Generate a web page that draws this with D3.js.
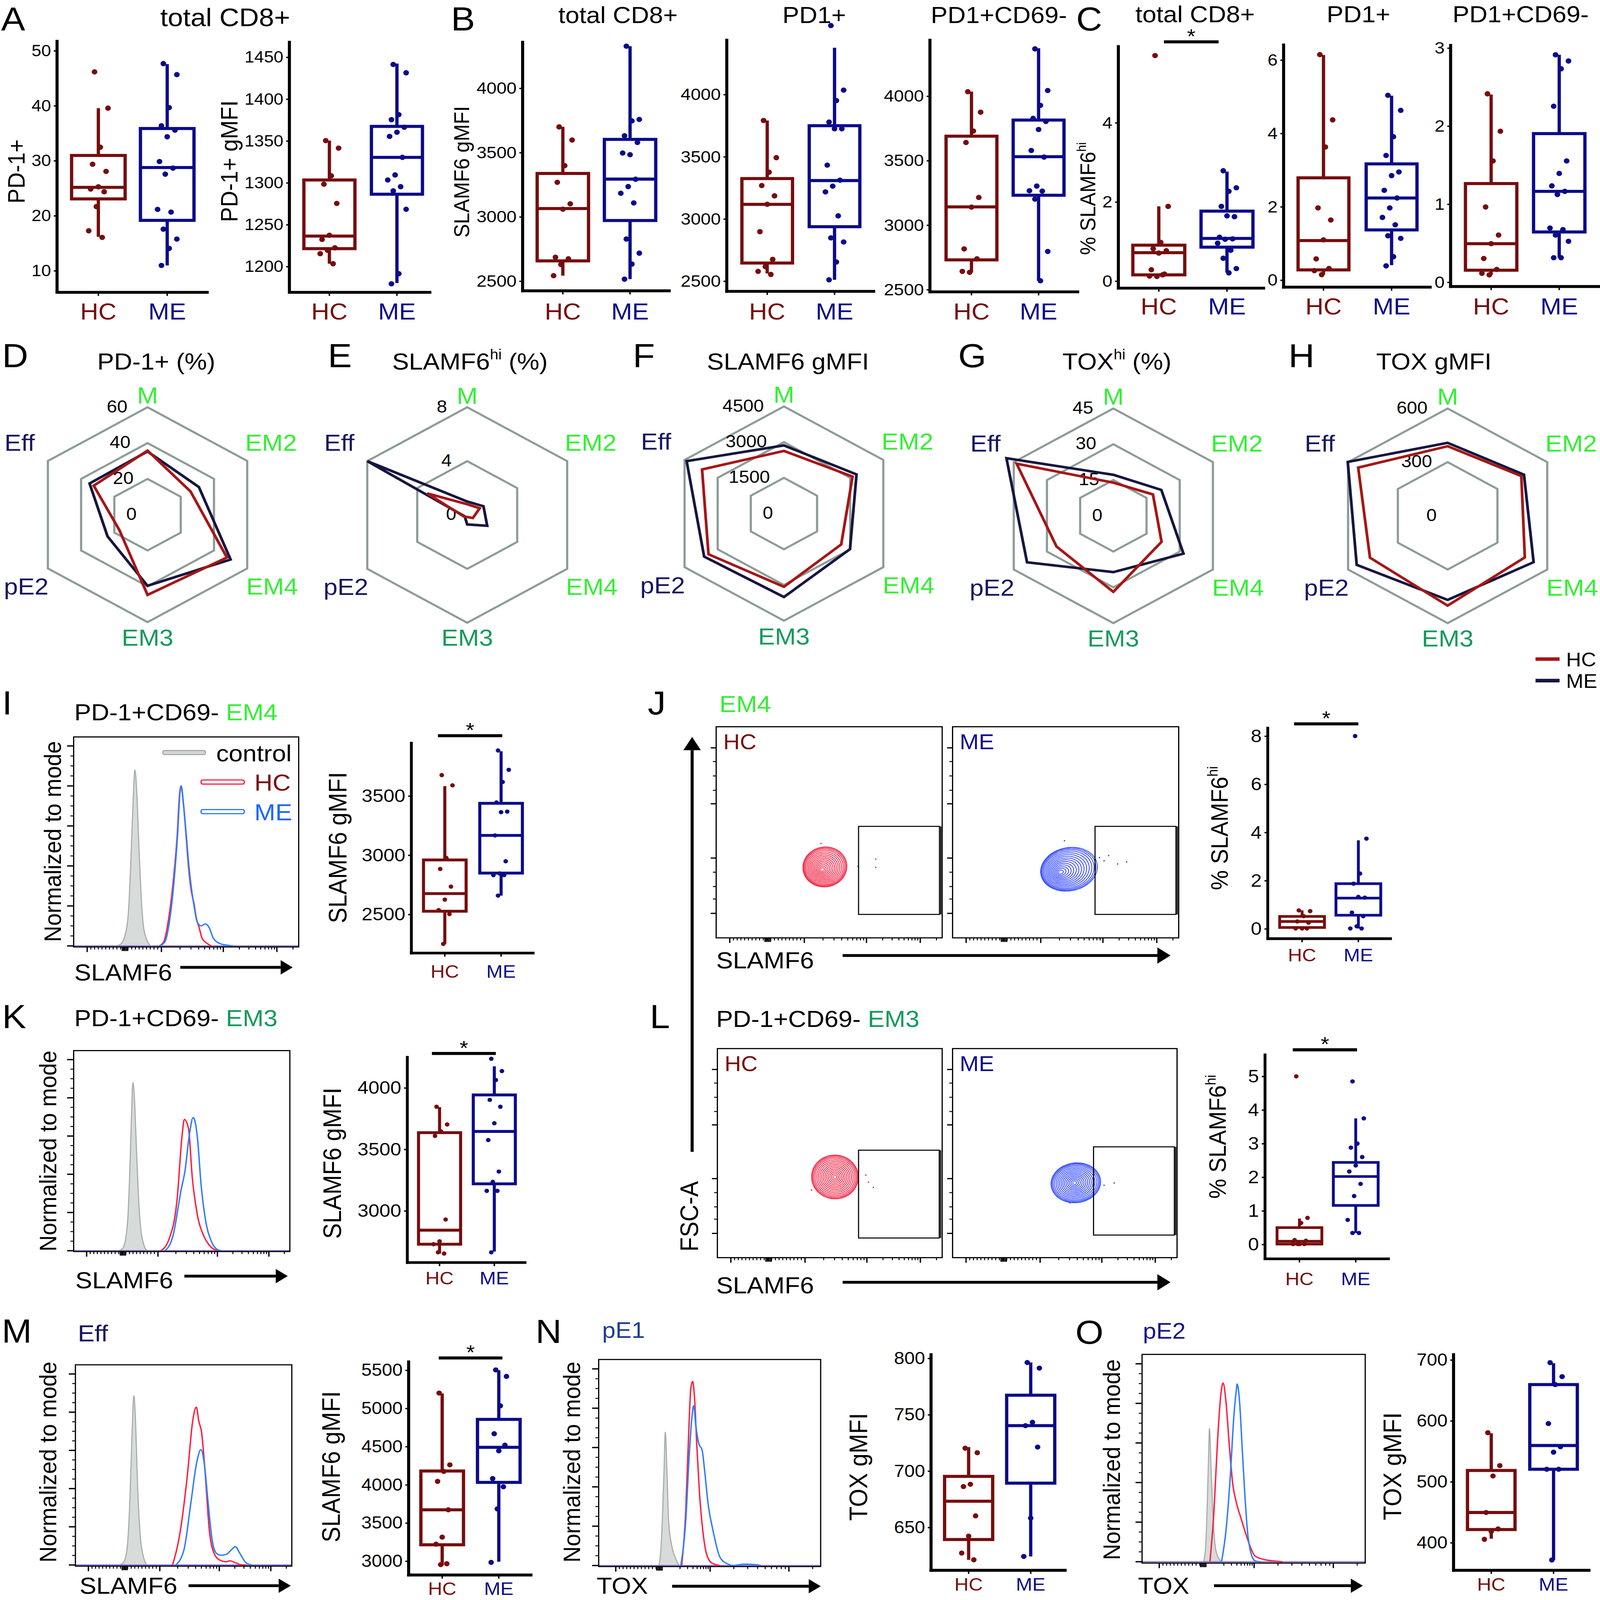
<!DOCTYPE html>
<html>
<head>
<meta charset="utf-8">
<script src="https://cdn.jsdelivr.net/npm/d3@7"></script>
<style>
  html, body { margin: 0; padding: 0; background: #fff; width: 100%; height: 100%; overflow: hidden; }
  svg { display: block; width: 100vw; height: 100vh; }
</style>
</head>
<body>
<script>
// ---------- data ----------
const groups = ["HC", "ME"];

// box stats are [lower whisker, Q1, median, Q3, upper whisker]
// A: total CD8+
const aPd1Ticks = [10, 20, 30, 40, 50];
const aPd1Hc = [46.1, 39.5, 32.4, 29.3, 28.0, 25.2, 24.8, 24.3, 21.6, 17.2, 16.0];
const aPd1Me = [47.6, 45.6, 39.6, 36.3, 35.5, 34.3, 29.8, 28.6, 27.5, 21.1, 20.6, 17.5, 15.7, 14.0, 10.9];
const aPd1BoxHc = [16.1, 23.0, 25.1, 30.9, 39.5];
const aPd1BoxMe = [10.9, 19.1, 28.7, 35.8, 47.5];

const aMfiTicks = [1200, 1250, 1300, 1350, 1400, 1450];
const aMfiHc = [1350, 1341, 1308, 1298, 1275, 1237, 1232, 1222, 1219, 1215, 1203];
const aMfiMe = [1441, 1431, 1381, 1375, 1366, 1360, 1355, 1330, 1309, 1303, 1295, 1290, 1268, 1191, 1179];
const aMfiBoxHc = [1203, 1221, 1236, 1303, 1350];
const aMfiBoxMe = [1180, 1286, 1330, 1367, 1442];

// B: SLAMF6 gMFI
const bTicks = [2500, 3000, 3500, 4000];
const bTotHc = [3697, 3595, 3396, 3266, 3099, 3057, 2683, 2671, 2627, 2540];
const bTotMe = [4325, 3755, 3744, 3628, 3576, 3481, 3494, 3290, 3233, 3181, 3106, 2825, 2715, 2630, 2513];
const bTotBoxHc = [2540, 2655, 3062, 3335, 3698];
const bTotBoxMe = [2513, 2969, 3291, 3600, 4325];
const bPd1Hc = [3789, 3490, 3373, 3266, 3183, 3115, 2895, 2672, 2614, 2576, 2551];
const bPd1Me = [4552, 4033, 3949, 3776, 3722, 3722, 3430, 3309, 3261, 3215, 3022, 2845, 2812, 2651, 2508];
const bPd1BoxHc = [2559, 2643, 3115, 3322, 3789];
const bPd1BoxMe = [2508, 2935, 3306, 3747, 4374];
const bCd69Hc = [4032, 3873, 3727, 3638, 3212, 3137, 2813, 2736, 2631, 2639];
const bCd69Me = [4364, 4041, 3926, 3825, 3801, 3739, 3576, 3525, 3300, 3264, 3261, 3199, 2793, 2566];
const bCd69BoxHc = [2631, 2728, 3139, 3687, 4033];
const bCd69BoxMe = [2566, 3229, 3528, 3812, 4369];

// C: % SLAMF6hi
const cTotTicks = [0, 2, 4];
const cTotHc = [5.69, 1.88, 0.97, 0.81, 0.76, 0.70, 0.28, 0.17, 0.11, 0.12, 0.15];
const cTotMe = [2.78, 2.35, 2.26, 1.88, 1.62, 1.64, 1.10, 1.06, 1.05, 0.95, 0.77, 0.57, 0.31, 0.20];
const cTotBoxHc = [0.13, 0.15, 0.71, 0.90, 1.88];
const cTotBoxMe = [0.21, 0.85, 1.07, 1.76, 2.76];
const cPd1Ticks = [0, 2, 4, 6];
const cPd1Hc = [6.14, 4.36, 3.62, 1.96, 1.63, 1.09, 0.57, 0.31, 0.14, 0.25];
const cPd1Me = [5.03, 4.62, 3.90, 3.39, 2.94, 2.84, 2.44, 2.23, 1.96, 1.70, 1.50, 1.20, 1.13, 0.63, 0.38];
const cPd1BoxHc = [0.14, 0.27, 1.07, 2.78, 6.13];
const cPd1BoxMe = [0.40, 1.36, 2.23, 3.16, 5.02];
const cCd69Ticks = [0, 1, 2, 3];
const cCd69Hc = [2.41, 1.93, 1.55, 0.96, 0.60, 0.49, 0.30, 0.16, 0.09, 0.11];
const cCd69Me = [2.91, 2.83, 2.73, 2.25, 1.55, 1.39, 1.23, 1.16, 1.12, 0.69, 0.67, 0.60, 0.52, 0.31, 0.31];
const cCd69BoxHc = [0.09, 0.15, 0.49, 1.26, 2.40];
const cCd69BoxMe = [0.31, 0.64, 1.16, 1.90, 2.91];

// D-H radar charts, axis order
const radarAxes = ["M", "EM2", "EM4", "EM3", "pE2", "Eff"];
const dTicks = [0, 20, 40, 60];
const dHc = [35.8, 25.9, 47.8, 44.8, 17.0, 32.4];
const dMe = [35.3, 30.9, 50.0, 39.7, 24.1, 34.9];
const eTicks = [0, 4, 8];
const eHc = [0.8, 1.0, 0.45, 0.15, 0.25, 3.2];
const eMe = [1.0, 1.3, 1.6, 0.7, 0.2, 8.0];
const fTicks = [0, 1500, 3000, 4500];
const fHc = [2631, 3107, 2593, 3077, 3416, 3707];
const fMe = [2863, 3287, 2991, 3506, 3613, 4406];
const gTicks = [0, 15, 30, 45];
const gHc = [13.9, 17.9, 21.8, 31.9, 25.7, 43.7];
const gMe = [17.2, 21.7, 31.7, 23.6, 39.0, 48.3];
const hTicks = [0, 300, 600];
const hHc = [389, 444, 465, 502, 468, 539];
const hMe = [408, 460, 518, 470, 548, 602];

// I-O histograms: [channel (0-100 across plot), % of mode]
const iCtrl = [[19,0],[21,1],[23,6],[24.5,20],[25.5,45],[26.5,75],[27.2,88],[28,78],[29,50],[30,25],[31,10],[32.5,3],[34,0]];
const iHc = [[37.9,0],[40,2],[42.4,15],[44.5,35],[46,55],[47,75],[47.7,80],[48.7,72],[49.9,56],[51,40],[52.2,28],[53.5,21],[54.5,14],[55.8,9],[57,4],[58.5,2],[61.2,0]];
const iMe = [[38,0],[40.5,2],[42.8,14],[44.8,35],[46.2,56],[47.2,76],[47.8,80],[48.8,71],[50,56],[51.2,40],[52.2,30],[53.5,20],[54.9,12],[56.7,10],[58.5,11],[60.3,9],[62,4],[64.8,1.3],[67.4,0.5],[71,0]];
const kCtrl = [[20.5,0],[22.5,1],[24,6],[25.2,20],[26.2,50],[27,80],[27.4,88],[28,82],[29,55],[30,28],[31,12],[32.5,3],[34,0]];
const kHc = [[40.4,0],[44.1,6],[47.9,27.5],[50.1,59.7],[51.2,68.7],[53.1,64],[54.9,38],[57.2,18.9],[60,8.2],[62.8,2.8],[66.5,0]];
const kMe = [[42.3,0],[46,8],[49.7,31.8],[51.6,42.5],[53.4,59.7],[55.3,69.7],[57.2,59.7],[59,33.9],[60.9,16.7],[63.7,4.9],[66.5,0.6],[68.3,0]];
const mCtrl = [[20.4,0],[22.5,2],[24,10],[25.2,35],[26.2,70],[27,88.6],[27.8,75],[28.8,40],[30,15],[31.5,4],[33,0]];
const mHc = [[44.9,0],[48.5,18],[51.8,47.7],[54.2,75.4],[55.9,82.6],[57,75.4],[58.3,69.5],[60,47.7],[61.9,18],[64.1,6.1],[66.5,2.7],[69.8,1.7],[71.4,2.2],[73.9,1.2],[76.3,0.2],[78.8,0]];
const mMe = [[46.4,0],[50.2,8.1],[53.4,32.9],[55.9,52.7],[58,60.4],[59.6,52.7],[61.3,32.9],[63.2,13],[65.2,6.1],[67.3,5.1],[69.8,5.6],[72.2,8.1],[73.9,9.6],[76,6.1],[78.8,1.2],[81.5,0]];
const nCtrl = [[27.2,0],[28,8],[28.8,27.4],[29.4,46.6],[30,67.8],[30.8,46.6],[31.5,22.6],[33.1,9.1],[34.6,3.8],[36.2,0]];
const nHc = [[37.4,0],[39.2,27.4],[40.5,65.9],[41.5,89.9],[42.3,93.6],[43.2,85],[44.2,61.1],[45.4,37],[46.9,17.8],[48.5,6.3],[50.8,1.4],[54.6,0]];
const nMe = [[37,0],[39.2,22.6],[40.8,56.3],[42,75.5],[42.8,81.3],[43.8,70.7],[45.1,62],[46.6,58.7],[47.7,48.6],[49.2,32.2],[51.5,17.8],[54.6,4.3],[57.7,1],[60.8,0],[65.4,0.7],[70,0.5],[73.1,0]];
const oCtrl = [[27.6,0],[28.5,8],[29.1,25.3],[29.8,54],[30.2,67.3],[31,44.4],[31.9,20.5],[33,6.2],[34.5,1.4],[35.6,0]];
const oHc = [[30.4,0],[32.2,25.3],[33.7,58.7],[35.3,84.5],[36.3,90.3],[37.6,80.7],[39.1,58.7],[40.6,39.6],[42.2,30.1],[44.2,22.4],[46,15.8],[48.3,8.1],[50.6,2.9],[53.7,1.4],[56.7,0.7],[59.8,0.3],[62.9,0]];
const oMe = [[35.6,0],[37.6,15.8],[39.6,44.4],[41.1,73.1],[42.2,86.4],[42.6,89.8],[43.7,80.7],[44.8,58.7],[46,34.9],[47.2,15.8],[48.8,4.3],[50.6,0.5],[52.9,0]];

// flow axis ticks (channel units)
const slamMajor = [6, 39, 66.5, 90.3];
const slamZero = [21.6, 22.2, 22.8, 23.4, 24];
const slamDecades = [[39, 66.5], [66.5, 90.3], [90.3, 114.1]];
const toxMajor = [7.7, 50.2, 85.7];
const toxZero = [26.2, 26.8, 27.4, 28, 28.6];
const toxDecades = [[30.8, 50.2], [50.2, 85.7], [85.7, 121.2]];
const fscMajor = [11.6, 37.8, 63.5, 90];
const fscMinor = [18.4, 24.3, 31.1, 69.9, 76.7, 83.5];

// J/L populations: [SLAMF6 centre, FSC centre, spread x, spread y, drift x, drift y, tilt deg]
const jHcPop = [47, 32.4, 9.8, 9.4, 1.1, 1.2, 25];
const jMePop = [47.7, 31.1, 12.7, 10.2, 3.8, 1.4, 15];
const lHcPop = [52.3, 38.6, 10.4, 10.5, 0, 0, 20];
const lMePop = [54.4, 35.8, 11.1, 9.5, 0.5, 0, 10];
const contourLevels = [0.08, 0.15, 0.22, 0.29, 0.36, 0.43, 0.5, 0.57, 0.64, 0.71, 0.78, 0.85, 0.91, 0.96, 1];
const jHcDots = [[70.6, 37.3], [70.6, 33.4], [62.7, 33.9], [46.4, 44.7]];
const jMeDots = [[65, 38], [67, 36.5], [69, 39], [73, 35], [77, 36], [49.5, 46]];
const lHcDots = [[66, 39.5], [67.2, 36.1], [69.4, 33.6], [41.9, 32.3]];
const lMeDots = [[67.5, 34.6], [72, 35.7], [52.3, 26.2]];
const jGate = [63, 98.8, 11.1, 52.8];
const lGateHc = [62.8, 98.7, 9.4, 51.4];
const lGateMe = [62.8, 98.8, 10.8, 53];

// I-O box plots
const iTicks = [2500, 3000, 3500];
const iHcPts = [3673, 3587, 2974, 2881, 2732, 2622, 2534, 2500, 2248];
const iMePts = [3881, 3718, 3615, 3442, 3365, 3360, 3164, 2946, 2843, 2829, 2829, 2656];
const iBoxHc = [2248, 2524, 2673, 2957, 3580];
const iBoxMe = [2656, 2846, 3164, 3435, 3874];
const kTicks = [3000, 3500, 4000];
const kHcPts = [3844, 3700, 3643, 3607, 2927, 2750, 2726, 2650, 2660];
const kMePts = [4234, 4134, 4061, 3900, 3844, 3710, 3573, 3317, 3233, 3160, 3160, 2660];
const kBoxHc = [2650, 2726, 2840, 3633, 3841];
const kBoxMe = [2666, 3217, 3643, 3940, 4173];
const jTicks = [0, 2, 4, 6, 8];
const jHcPts = [0.75, 0.72, 0.51, 0.29, 0.24, 0, 0, 0];
const jMePts = [7.99, 3.73, 2.28, 1.86, 1.28, 1.31, 0.66, 0.51, 0.09, 0, 0];
const jBoxHc = [0, 0.04, 0.29, 0.50, 0.75];
const jBoxMe = [0, 0.55, 1.26, 1.86, 3.66];
const lTicks = [0, 1, 2, 3, 4, 5];
const lHcPts = [4.99, 0.78, 0.63, 0.12, 0.10, 0, 0, 0, 0];
const lMePts = [4.84, 3.74, 2.99, 2.87, 2.59, 2.34, 2.16, 1.79, 1.43, 0.72, 0.33, 0.33];
const lBoxHc = [0, 0, 0.085, 0.49, 0.76];
const lBoxMe = [0.33, 1.15, 2.01, 2.43, 3.74];
const mTicks = [3000, 3500, 4000, 4500, 5000, 5500];
const mHcPts = [5197, 4257, 4171, 4040, 3668, 3310, 3218, 2962, 2950];
const mMePts = [5500, 5415, 5030, 4664, 4515, 4440, 4077, 3970, 3680, 2980];
const mBoxHc = [2939, 3210, 3668, 4176, 5191];
const mBoxMe = [2988, 4027, 4486, 4852, 5496];
const nTicks = [650, 700, 750, 800];
const nHcPts = [720, 716, 688, 686, 660, 642, 627, 621];
const nMePts = [796, 791, 743, 740, 721, 658, 624];
const nBoxHc = [621, 639, 673, 695, 721];
const nBoxMe = [624, 689, 740, 767, 796];
const oTicks = [400, 500, 600, 700];
const oHcPts = [580, 526, 509, 449, 422, 418, 405];
const oMePts = [695, 672, 659, 595, 557, 548, 520, 520, 371];
const oBoxHc = [406, 421, 449, 518, 579];
const oBoxMe = [371, 520, 559, 659, 694];

// ---------- drawing ----------
const FONT = "'Liberation Sans', Arial, Helvetica, sans-serif";
const HC_COL = "#760d0d", ME_COL = "#0b0b8a";
const BRIGHT = "#36ee36", DARKGREEN = "#159a5b", NAVY = "#161660";

// the figure is laid out on a 1464 x 1568 grid and stretched to fill the window
const svg = d3.select("body").append("svg")
  .attr("viewBox", "0 0 1464 1568")
  .attr("preserveAspectRatio", "none");
svg.append("rect").attr("width", 1464).attr("height", 1568).attr("fill", "#fff");

function text(x, y, parts, size, anchor = "start") {
  const t = svg.append("text").attr("x", x).attr("y", y)
    .attr("font-family", FONT).attr("font-size", size).attr("text-anchor", anchor);
  addParts(t, parts, size);
  return t;
}
function addParts(t, parts, size) {
  if (typeof parts === "string") parts = [[parts, "#000"]];
  parts.forEach(p => {
    const s = t.append("tspan").text(p[0]).attr("fill", p[1] || "#000");
    if (p[2] === "sup") s.attr("font-size", size * 0.6).attr("dy", -size * 0.42);
    if (p[2] === "down") s.attr("dy", size * 0.42);
  });
}
function rotText(cx, cy, parts, size) {
  const t = svg.append("text").attr("transform", `translate(${cx},${cy}) rotate(-90)`)
    .attr("y", size * 0.36).attr("font-family", FONT).attr("font-size", size)
    .attr("text-anchor", "middle");
  addParts(t, parts, size);
  return t;
}
function arrow(x1, y1, x2, y2, head = 12, width = 14, sw = 2.8) {
  const g = svg.append("g");
  const ang = Math.atan2(y2 - y1, x2 - x1);
  const bx = x2 - head * Math.cos(ang), by = y2 - head * Math.sin(ang);
  g.append("line").attr("x1", x1).attr("y1", y1).attr("x2", bx).attr("y2", by)
    .attr("stroke", "#000").attr("stroke-width", sw);
  const px = -Math.sin(ang) * width / 2, py = Math.cos(ang) * width / 2;
  g.append("path").attr("d", `M${x2},${y2}L${bx + px},${by + py}L${bx - px},${by - py}Z`).attr("fill", "#000");
}
const jit = i => (((i * 7 + 3) % 11) / 10 - 0.5) * 0.36;

function boxPlot(o) {
  const y = d3.scaleLinear().domain(o.domain).range([o.bottom, o.top]);
  const x = d3.scalePoint().domain(groups).range([o.hcX, o.meX]);
  const g = svg.append("g");
  const ax = g.append("g").attr("transform", `translate(${o.ax},0)`)
    .call(d3.axisLeft(y).tickValues(o.ticks).tickFormat(d3.format("d"))
      .tickSize(3).tickPadding(2.5).tickSizeOuter(0));
  ax.select(".domain").remove();
  ax.selectAll(".tick line").attr("stroke", "#000").attr("stroke-width", 1.3);
  ax.selectAll(".tick text").attr("font-family", FONT).attr("font-size", o.tickFont).attr("fill", "#000");
  const aw = o.axisW || 2.8;
  g.append("line").attr("x1", o.ax).attr("x2", o.ax).attr("y1", o.top).attr("y2", o.bottom + aw / 2)
    .attr("stroke", "#000").attr("stroke-width", aw);
  g.append("line").attr("x1", o.ax - aw / 2).attr("x2", o.right).attr("y1", o.bottom).attr("y2", o.bottom)
    .attr("stroke", "#000").attr("stroke-width", aw);
  const bw = o.boxStroke || 3;
  [[o.boxHc, o.hc, "HC", HC_COL], [o.boxMe, o.me, "ME", ME_COL]].forEach(([b, pts, k, col]) => {
    const cx = x(k), w = o.boxW;
    g.append("line").attr("x1", cx).attr("x2", cx).attr("y1", o.bottom).attr("y2", o.bottom + 3.5)
      .attr("stroke", "#000").attr("stroke-width", 1.3);
    g.append("line").attr("x1", cx).attr("x2", cx).attr("y1", y(b[0])).attr("y2", y(b[1]))
      .attr("stroke", col).attr("stroke-width", bw);
    g.append("line").attr("x1", cx).attr("x2", cx).attr("y1", y(b[3])).attr("y2", y(b[4]))
      .attr("stroke", col).attr("stroke-width", bw);
    g.append("rect").attr("x", cx - w / 2).attr("y", y(b[3])).attr("width", w)
      .attr("height", Math.max(0.5, y(b[1]) - y(b[3])))
      .attr("fill", "none").attr("stroke", col).attr("stroke-width", bw);
    g.append("line").attr("x1", cx - w / 2).attr("x2", cx + w / 2).attr("y1", y(b[2])).attr("y2", y(b[2]))
      .attr("stroke", col).attr("stroke-width", bw);
    g.selectAll(null).data(pts).join("circle")
      .attr("cx", (d, i) => cx + jit(i) * w).attr("cy", d => y(d))
      .attr("r", o.r || 2.6).attr("fill", col);
    g.append("text").attr("x", cx).attr("y", o.catBase).attr("text-anchor", "middle")
      .attr("font-family", FONT).attr("font-size", o.catFont).attr("fill", col).text(k);
  });
  if (o.yLabel) rotText(o.yLabel[0], o.yLabel[1], o.yLabel[2], o.yLabel[3]);
  if (o.sig) {
    g.append("line").attr("x1", o.sig[0]).attr("x2", o.sig[1]).attr("y1", o.sig[2]).attr("y2", o.sig[2])
      .attr("stroke", "#000").attr("stroke-width", 3);
    g.append("text").attr("x", (o.sig[0] + o.sig[1]) / 2).attr("y", o.sig[2] + 1.5)
      .attr("text-anchor", "middle").attr("font-family", FONT).attr("font-size", 20).text("*");
  }
}

function radar(o) {
  const r = d3.scaleLinear().domain([0, o.max]).range([0, o.R]);
  const g = svg.append("g").attr("transform", `translate(${o.cx},${o.cy})`);
  const hex = d3.lineRadial().angle((d, i) => i * Math.PI / 3).radius(d => r(d)).curve(d3.curveLinearClosed);
  o.ticks.filter(t => t > 0).forEach(t => {
    g.append("path").attr("d", hex(d3.range(6).map(() => t)))
      .attr("fill", "none").attr("stroke", "#8d9c98").attr("stroke-width", 2);
  });
  o.ticks.forEach(t => {
    g.append("text").attr("x", -10 - 0.08 * r(t)).attr("y", -r(t) + 5)
      .attr("text-anchor", "end").attr("font-family", FONT).attr("font-size", 17).text(d3.format("d")(t));
  });
  const line = d3.lineRadial().angle((d, i) => i * Math.PI / 3).radius(d => r(d)).curve(d3.curveLinearClosed);
  g.append("path").attr("d", line(o.me)).attr("fill", "none").attr("stroke", "#16163f")
    .attr("stroke-width", 2.5).attr("stroke-linejoin", "miter");
  g.append("path").attr("d", line(o.hc)).attr("fill", "none").attr("stroke", "#a61616")
    .attr("stroke-width", 2.5).attr("stroke-linejoin", "miter");
  const off = [[0, -117], [113, -71], [114, 70], [0, 120], [-111, 70], [-117, -71]];
  const cols = [BRIGHT, BRIGHT, BRIGHT, DARKGREEN, NAVY, NAVY];
  radarAxes.forEach((a, i) => {
    g.append("text").attr("x", off[i][0]).attr("y", off[i][1] + 8.2)
      .attr("text-anchor", "middle").attr("font-family", FONT).attr("font-size", 23)
      .attr("fill", cols[i]).text(a);
  });
}

function flowXTicks(g, x, y0, majors, zero, decades, linStart, linEnd) {
  const minors = [];
  for (let v = linStart + 1.65; v < linEnd; v += 1.65) minors.push(v);
  decades.forEach(([a, b]) => d3.range(2, 10).forEach(k => {
    const v = a + (b - a) * Math.log10(k);
    if (v < 99) minors.push(v);
  }));
  minors.forEach(v => g.append("line").attr("x1", x(v)).attr("x2", x(v)).attr("y1", y0).attr("y2", y0 + 2.5)
    .attr("stroke", "#000").attr("stroke-width", 0.9));
  zero.forEach(v => g.append("line").attr("x1", x(v)).attr("x2", x(v)).attr("y1", y0).attr("y2", y0 + 4)
    .attr("stroke", "#000").attr("stroke-width", 1.1));
  majors.forEach(v => g.append("line").attr("x1", x(v)).attr("x2", x(v)).attr("y1", y0).attr("y2", y0 + 5)
    .attr("stroke", "#000").attr("stroke-width", 1.2));
}
function slamTicks(g, x, y0) { flowXTicks(g, x, y0, slamMajor, slamZero, slamDecades, 6, 39); }
function toxTicks(g, x, y0) { flowXTicks(g, x, y0, toxMajor, toxZero, toxDecades, 7.7, 26); }

let clipN = 0;
function histo(o) {
  const x = d3.scaleLinear().domain([0, 100]).range([o.x0, o.x1]);
  const y = d3.scaleLinear().domain([0, 100]).range([o.base, o.top100]);
  const g = svg.append("g");
  const id = "clip" + (clipN++);
  svg.append("clipPath").attr("id", id).append("rect")
    .attr("x", o.x0).attr("y", o.y0).attr("width", o.x1 - o.x0).attr("height", o.y1 - o.y0);
  const inner = g.append("g").attr("clip-path", `url(#${id})`);
  inner.append("path").datum(o.ctrl)
    .attr("d", d3.area().x(d => x(d[0])).y0(y(0)).y1(d => y(d[1])).curve(d3.curveMonotoneX))
    .attr("fill", "#d7dbda").attr("stroke", "#a5acaa").attr("stroke-width", 1);
  inner.append("line").attr("x1", o.x0).attr("x2", o.x1).attr("y1", y(0)).attr("y2", y(0))
    .attr("stroke", "#8c72d6").attr("stroke-width", 1.2);
  const ln = d3.line().x(d => x(d[0])).y(d => y(d[1])).curve(d3.curveMonotoneX);
  inner.append("path").datum(o.hc).attr("d", ln).attr("fill", "none").attr("stroke", "#ff2040").attr("stroke-width", 1.3);
  inner.append("path").datum(o.me).attr("d", ln).attr("fill", "none").attr("stroke", "#2f7cff").attr("stroke-width", 1.3);
  g.append("rect").attr("x", o.x0).attr("y", o.y0).attr("width", o.x1 - o.x0).attr("height", o.y1 - o.y0)
    .attr("fill", "none").attr("stroke", "#000").attr("stroke-width", 1.1);
  d3.range(0, 101, 5).forEach(v => {
    const len = v % 20 === 0 ? 6 : 3;
    g.append("line").attr("x1", o.x0 - len).attr("x2", o.x0).attr("y1", y(v)).attr("y2", y(v))
      .attr("stroke", "#000").attr("stroke-width", v % 20 === 0 ? 1.3 : 0.9);
  });
  (o.tox ? toxTicks : slamTicks)(g, x, o.y1);
  rotText(o.yLab[0], o.yLab[1], "Normalized to mode", 22);
  text(o.xLab[0], o.xLab[1], o.tox ? "TOX" : "SLAMF6", 23);
  arrow(o.arrow[0], o.arrow[2], o.arrow[1], o.arrow[2], 11, 14, 2.8);
}

function dotPlot(o) {
  const x = d3.scaleLinear().domain([0, 100]).range([o.x0, o.x1]);
  const y = d3.scaleLinear().domain([0, 100]).range([o.y1, o.y0]);
  const g = svg.append("g");
  const [cx, cy, rx, ry, sx, sy, tilt] = o.pop;
  const th = tilt * Math.PI / 180;
  const ell = d3.line().curve(d3.curveCardinalClosed);
  contourLevels.forEach(t => {
    const pts = d3.range(0, 2 * Math.PI, Math.PI / 24).map(a => {
      const ex = rx * t * Math.cos(a), ey = ry * t * Math.sin(a);
      return [x(cx + sx * t + ex * Math.cos(th) - ey * Math.sin(th)),
              y(cy + sy * t + ex * Math.sin(th) + ey * Math.cos(th))];
    });
    g.append("path").attr("d", ell(pts)).attr("fill", "none").attr("stroke", o.col).attr("stroke-width", 0.7);
  });
  g.append("circle").attr("cx", x(cx)).attr("cy", y(cy)).attr("r", 1.3).attr("fill", "#fff");
  g.selectAll(null).data(o.dots).join("rect")
    .attr("x", d => x(d[0]) - 0.6).attr("y", d => y(d[1]) - 0.6).attr("width", 1.2).attr("height", 1.2)
    .attr("fill", o.col);
  g.append("rect").attr("x", x(o.gate[0])).attr("y", y(o.gate[3]))
    .attr("width", x(o.gate[1]) - x(o.gate[0])).attr("height", y(o.gate[2]) - y(o.gate[3]))
    .attr("fill", "none").attr("stroke", "#000").attr("stroke-width", 1);
  g.append("line").attr("x1", x(o.gate[1]) + 1.2).attr("x2", x(o.gate[1]) + 1.2)
    .attr("y1", y(o.gate[3])).attr("y2", y(o.gate[2])).attr("stroke", "#000").attr("stroke-width", 1);
  g.append("rect").attr("x", o.x0).attr("y", o.y0).attr("width", o.x1 - o.x0).attr("height", o.y1 - o.y0)
    .attr("fill", "none").attr("stroke", "#000").attr("stroke-width", 1.1);
  fscMajor.forEach(v => g.append("line").attr("x1", o.x0 - 5).attr("x2", o.x0).attr("y1", y(v)).attr("y2", y(v))
    .attr("stroke", "#000").attr("stroke-width", 1.2));
  fscMinor.forEach(v => g.append("line").attr("x1", o.x0 - 3).attr("x2", o.x0).attr("y1", y(v)).attr("y2", y(v))
    .attr("stroke", "#000").attr("stroke-width", 0.9));
  slamTicks(g, x, o.y1);
  text(o.x0 + 6.5, o.y0 + 22, [[o.name, o.name === "HC" ? "#7a0d0d" : "#0d0d8c"]], 21);
}

// ---- panel letters ----
[["A", 1, 30], ["B", 412.6, 30], ["C", 984.7, 30], ["D", 2, 360], ["E", 300, 360], ["F", 579, 360],
 ["G", 876.8, 360], ["H", 1179, 360], ["I", 2, 700], ["J", 592.7, 700], ["K", 2, 1007.5], ["L", 594.6, 1007.5],
 ["M", 1.6, 1315.6], ["N", 490, 1316], ["O", 984, 1317]].forEach(d => text(d[1], d[2], d[0], 33));

// ---- A ----
text(206, 25.5, "total CD8+", 25, "middle");
boxPlot({ ax: 52.2, right: 191, top: 39, bottom: 286.5, domain: [6.01, 51.93], hcX: 90, meX: 153, boxW: 49,
  ticks: aPd1Ticks, tickFont: 16, catFont: 23, catBase: 313, hc: aPd1Hc, me: aPd1Me, boxHc: aPd1BoxHc, boxMe: aPd1BoxMe,
  yLabel: [14.5, 168, "PD-1+", 22] });
boxPlot({ ax: 264.8, right: 394.7, top: 40, bottom: 286.5, domain: [1168.8, 1469.2], hcX: 301.4, meX: 363.2, boxW: 46.7,
  ticks: aMfiTicks, tickFont: 16, catFont: 23, catBase: 313, hc: aMfiHc, me: aMfiMe, boxHc: aMfiBoxHc, boxMe: aMfiBoxMe,
  yLabel: [209.3, 158, "PD-1+ gMFI", 22] });

// ---- B ----
text(565.5, 22.6, "total CD8+", 23, "middle");
text(745, 22.6, "PD1+", 23, "middle");
text(914, 22.6, "PD1+CD69-", 23, "middle");
boxPlot({ ax: 478.2, right: 613.7, top: 40, bottom: 285, domain: [2422.2, 4366.7], hcX: 515, meX: 576.5, boxW: 47,
  ticks: bTicks, tickFont: 16.5, catFont: 23, catBase: 313, hc: bTotHc, me: bTotMe, boxHc: bTotBoxHc, boxMe: bTotBoxMe,
  yLabel: [422, 168.4, "SLAMF6 gMFI", 20] });
boxPlot({ ax: 665, right: 800.8, top: 38, bottom: 285.5, domain: [2415.5, 4445.8], hcX: 702, meX: 763.6, boxW: 46.3,
  ticks: bTicks, tickFont: 16.5, catFont: 23, catBase: 313, hc: bPd1Hc, me: bPd1Me, boxHc: bPd1BoxHc, boxMe: bPd1BoxMe });
boxPlot({ ax: 850.9, right: 987.5, top: 38, bottom: 286, domain: [2480.2, 4442.2], hcX: 888.9, meX: 950.3, boxW: 46.5,
  ticks: bTicks, tickFont: 16.5, catFont: 23, catBase: 313, hc: bCd69Hc, me: bCd69Me, boxHc: bCd69BoxHc, boxMe: bCd69BoxMe });

// ---- C ----
text(1093.5, 22, "total CD8+", 23, "middle");
text(1243, 22, "PD1+", 23, "middle");
text(1391.4, 22, "PD1+CD69-", 23, "middle");
boxPlot({ ax: 1023.3, right: 1157.6, top: 44.2, bottom: 282.4, domain: [-0.186, 5.954], hcX: 1060.3, meX: 1122.7, boxW: 47.5,
  ticks: cTotTicks, tickFont: 16.5, catFont: 23, catBase: 308, hc: cTotHc, me: cTotMe, boxHc: cTotBoxHc, boxMe: cTotBoxMe,
  yLabel: [995, 194.6, [["% SLAMF6"], ["hi", "#000", "sup"]], 20], sig: [1065, 1115, 41] });
boxPlot({ ax: 1174.5, right: 1310, top: 42.7, bottom: 281.4, domain: [-0.2, 6.44], hcX: 1211, meX: 1273.3, boxW: 46.5,
  ticks: cPd1Ticks, tickFont: 16.5, catFont: 23, catBase: 308, hc: cPd1Hc, me: cPd1Me, boxHc: cPd1BoxHc, boxMe: cPd1BoxMe });
boxPlot({ ax: 1327.3, right: 1464, top: 43.1, bottom: 280.8, domain: [-0.059, 3.048], hcX: 1364.4, meX: 1426.7, boxW: 47,
  ticks: cCd69Ticks, tickFont: 16.5, catFont: 23, catBase: 308, hc: cCd69Hc, me: cCd69Me, boxHc: cCd69BoxHc, boxMe: cCd69BoxMe });

// ---- D-H radars ----
text(143, 362, "PD-1+ (%)", 23, "middle");
text(430, 362, [["SLAMF6"], ["hi", "#000", "sup"], [" (%)", "#000", "down"]], 23, "middle");
text(721, 362, "SLAMF6 gMFI", 23, "middle");
text(1022, 362, [["TOX"], ["hi", "#000", "sup"], [" (%)", "#000", "down"]], 23, "middle");
text(1312, 362, "TOX gMFI", 23, "middle");
radar({ cx: 135, cy: 504.4, R: 105.3, max: 60, ticks: dTicks, hc: dHc, me: dMe });
radar({ cx: 427.5, cy: 504.7, R: 105.6, max: 8, ticks: eTicks, hc: eHc, me: eMe });
radar({ cx: 717.3, cy: 503.3, R: 105, max: 4500, ticks: fTicks, hc: fHc, me: fMe });
radar({ cx: 1018.7, cy: 505.5, R: 105.2, max: 45, ticks: gTicks, hc: gHc, me: gMe });
radar({ cx: 1324.6, cy: 505.5, R: 105.2, max: 600, ticks: hTicks, hc: hHc, me: hMe });
[["HC", "#a61616", 645.9], ["ME", "#16163f", 667]].forEach(([k, c, yy]) => {
  svg.append("line").attr("x1", 1405).attr("x2", 1427).attr("y1", yy).attr("y2", yy)
    .attr("stroke", c).attr("stroke-width", 3.5);
  text(1433, yy + 7, k, 19);
});

// ---- I ----
text(68, 706, [["PD-1+CD69- "], ["EM4", BRIGHT]], 23);
histo({ x0: 67.4, x1: 273.3, y0: 722.2, y1: 928, base: 927, top100: 731, ctrl: iCtrl, hc: iHc, me: iMe,
  yLab: [48, 824.7], xLab: [68, 961], arrow: [165, 267.8, 948] });
svg.append("rect").attr("x", 149).attr("y", 735.5).attr("width", 39).attr("height", 4).attr("rx", 1.5)
  .attr("fill", "#d2d6d5").attr("stroke", "#9ea5a3").attr("stroke-width", 1);
text(197.8, 746, "control", 23);
svg.append("rect").attr("x", 184).attr("y", 764.4).attr("width", 39.5).attr("height", 4).attr("rx", 1.5)
  .attr("fill", "#fff").attr("stroke", "#ff2040").attr("stroke-width", 1.2);
text(232.8, 775, [["HC", "#7a1010"]], 23);
svg.append("rect").attr("x", 184).attr("y", 793.4).attr("width", 39.5).attr("height", 4).attr("rx", 1.5)
  .attr("fill", "#fff").attr("stroke", "#2f7cff").attr("stroke-width", 1.2);
text(232.8, 804, [["ME", "#1a66ff"]], 23);
boxPlot({ ax: 376.4, right: 489.1, top: 727, bottom: 934, domain: [2171, 3953.9], hcX: 407, meX: 458.5, boxW: 39,
  ticks: iTicks, tickFont: 18, catFont: 18, catBase: 958, hc: iHcPts, me: iMePts, boxHc: iBoxHc, boxMe: iBoxMe,
  r: 2.1, boxStroke: 2.8, axisW: 2.6, yLabel: [308.6, 830.7, "SLAMF6 gMFI", 23], sig: [400.7, 459.6, 721] });

// ---- K ----
text(68, 1005.5, [["PD-1+CD69- "], ["EM3", DARKGREEN]], 23);
histo({ x0: 67.4, x1: 265.2, y0: 1029.6, y1: 1226.5, base: 1225.7, top100: 1038.4, ctrl: kCtrl, hc: kHc, me: kMe,
  yLab: [43.5, 1128], xLab: [69, 1262.6], arrow: [168.7, 263.3, 1250.6] });
boxPlot({ ax: 372.7, right: 481.7, top: 1034.8, bottom: 1237.3, domain: [2576.8, 4257.3], hcX: 402.2, meX: 452.3, boxW: 38.5,
  ticks: kTicks, tickFont: 18, catFont: 18, catBase: 1258.6, hc: kHcPts, me: kMePts, boxHc: kBoxHc, boxMe: kBoxMe,
  r: 2.1, boxStroke: 2.8, axisW: 2.6, yLabel: [303.8, 1140, "SLAMF6 gMFI", 23], sig: [395.2, 453.7, 1032.4] });

// ---- J / L ----
text(658.3, 698, [["EM4", BRIGHT]], 23);
text(655.3, 1006.3, [["PD-1+CD69- "], ["EM3", DARKGREEN]], 23);
dotPlot({ x0: 655.3, x1: 862.1, y0: 712.2, y1: 919.1, pop: jHcPop, col: "#ee1a3c", dots: jHcDots, gate: jGate, name: "HC" });
dotPlot({ x0: 871.6, x1: 1078.5, y0: 712.2, y1: 919.1, pop: jMePop, col: "#2a40ff", dots: jMeDots, gate: jGate, name: "ME" });
dotPlot({ x0: 656.4, x1: 862.1, y0: 1027.6, y1: 1232.5, pop: lHcPop, col: "#ee1a3c", dots: lHcDots, gate: lGateHc, name: "HC" });
dotPlot({ x0: 871.6, x1: 1077, y0: 1027.6, y1: 1232.5, pop: lMePop, col: "#2a40ff", dots: lMeDots, gate: lGateMe, name: "ME" });
text(655.3, 949, "SLAMF6", 23);
arrow(771, 936.4, 1071, 936.4, 12, 16, 2.8);
text(655.3, 1267.5, "SLAMF6", 23);
arrow(771, 1256.6, 1071, 1256.6, 12, 16, 2.8);
arrow(633.3, 1128.8, 633.3, 722.2, 13, 16, 2.8);
rotText(630.6, 1192, "FSC-A", 23);
boxPlot({ ax: 1160, right: 1273.6, top: 712.2, bottom: 919.9, domain: [-0.424, 8.377], hcX: 1191.4, meX: 1242.9, boxW: 41,
  ticks: jTicks, tickFont: 18, catFont: 18, catBase: 942, hc: jHcPts, me: jMePts, boxHc: jBoxHc, boxMe: jBoxMe,
  r: 2.1, boxStroke: 2.6, axisW: 2.6, yLabel: [1115.5, 811.6, [["% SLAMF6"], ["hi", "#000", "sup"]], 22], sig: [1184.1, 1242.9, 709.4] });
boxPlot({ ax: 1157.5, right: 1271.7, top: 1032.4, bottom: 1233.7, domain: [-0.44, 5.671], hcX: 1189, meX: 1240.5, boxW: 41,
  ticks: lTicks, tickFont: 18, catFont: 18, catBase: 1259.4, hc: lHcPts, me: lMePts, boxHc: lBoxHc, boxMe: lBoxMe,
  r: 2.1, boxStroke: 2.6, axisW: 2.6, yLabel: [1113.5, 1114, [["% SLAMF6"], ["hi", "#000", "sup"]], 22], sig: [1182.9, 1241.7, 1028.8] });

// ---- M ----
text(71.2, 1314.7, [["Eff", "#14145a"]], 23);
histo({ x0: 69, x1: 267, y0: 1337.5, y1: 1534.8, base: 1533.7, top100: 1346.5, ctrl: mCtrl, hc: mHc, me: mMe,
  yLab: [43.7, 1432.8], xLab: [72.8, 1562], arrow: [172.5, 266, 1554] });
boxPlot({ ax: 373.9, right: 487.2, top: 1333.2, bottom: 1543.5, domain: [2814.3, 5624.3], hcX: 404.6, meX: 456.4, boxW: 39,
  ticks: mTicks, tickFont: 17, catFont: 18, catBase: 1563, hc: mHcPts, me: mMePts, boxHc: mBoxHc, boxMe: mBoxMe,
  r: 2.5, yLabel: [302.7, 1437.4, "SLAMF6 gMFI", 23], sig: [401.4, 459.7, 1330.8] });

// ---- N ----
text(551, 1311, [["pE1", "#1c3f8f"]], 22);
histo({ x0: 547.8, x1: 750.9, y0: 1332.3, y1: 1535.2, base: 1534.2, top100: 1341.5, ctrl: nCtrl, hc: nHc, me: nMe, tox: true,
  yLab: [522.8, 1432.8], xLab: [546, 1562], arrow: [615, 751, 1554.5] });
boxPlot({ ax: 851.9, right: 976, top: 1326.2, bottom: 1538.9, domain: [611.7, 804.2], hcX: 886.3, meX: 943.1, boxW: 44,
  ticks: nTicks, tickFont: 17, catFont: 18, catBase: 1559, hc: nHcPts, me: nMePts, boxHc: nBoxHc, boxMe: nBoxMe,
  r: 2.5, yLabel: [785.3, 1437.6, "TOX gMFI", 23] });

// ---- O ----
text(1045.7, 1312, [["pE2", "#16168a"]], 22);
histo({ x0: 1045, x1: 1249.2, y0: 1327.3, y1: 1531.8, base: 1530.5, top100: 1336.5, ctrl: oCtrl, hc: oHc, me: oMe, tox: true,
  yLab: [1016.8, 1430.5], xLab: [1041.3, 1562], arrow: [1110.8, 1247, 1554] });
boxPlot({ ax: 1330, right: 1455.3, top: 1326.2, bottom: 1538.9, domain: [354.1, 710.4], hcX: 1364.5, meX: 1421.5, boxW: 43.5,
  ticks: oTicks, tickFont: 17, catFont: 18, catBase: 1559, hc: oHcPts, me: oMePts, boxHc: oBoxHc, boxMe: oBoxMe,
  r: 2.5, yLabel: [1273.7, 1437, "TOX gMFI", 23] });
</script>
</body>
</html>
